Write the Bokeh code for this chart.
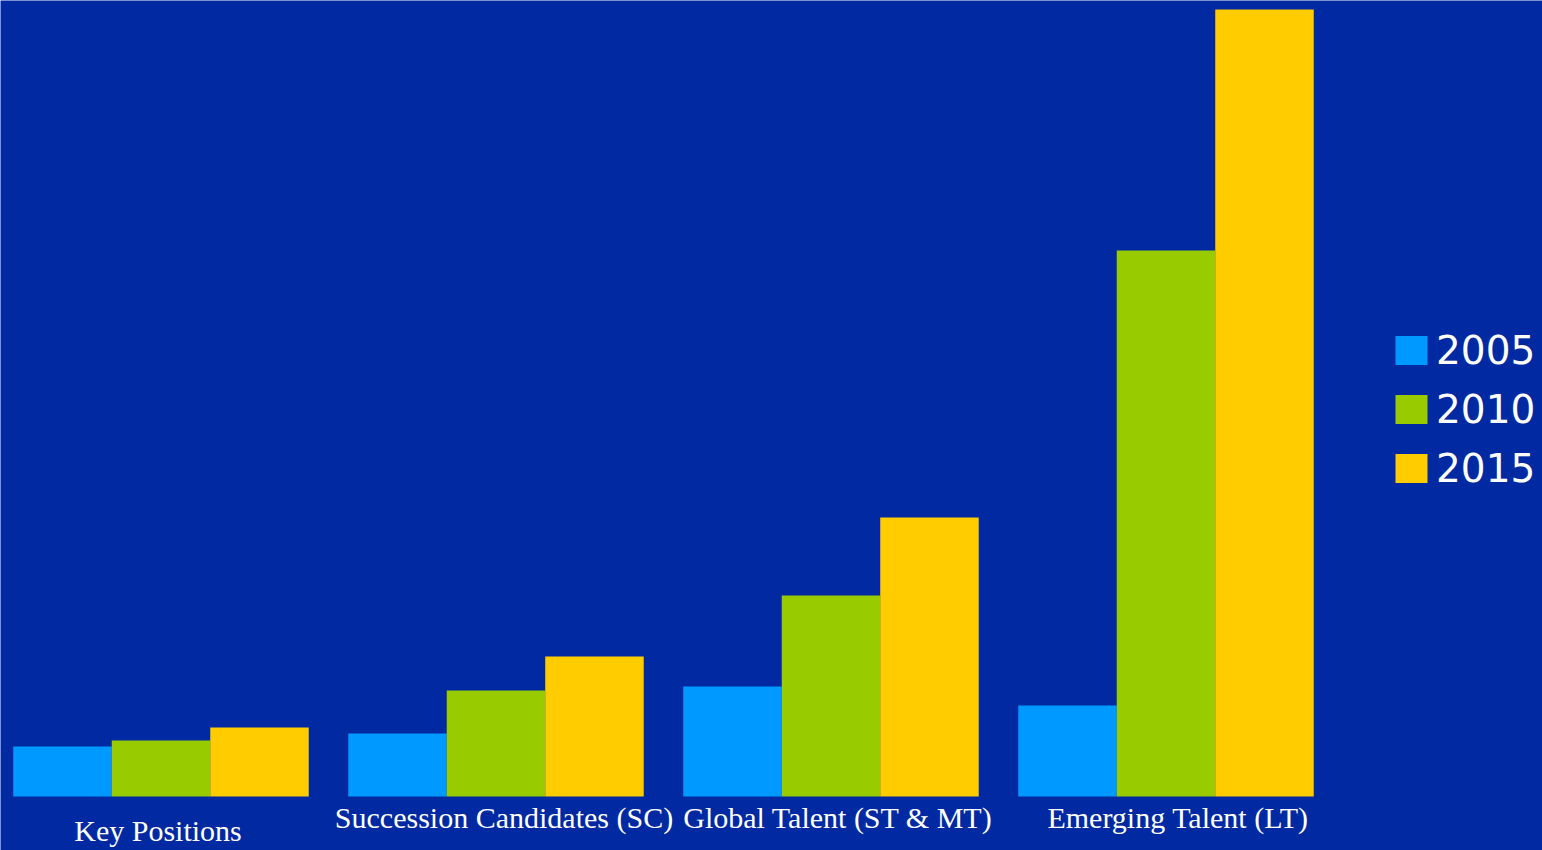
from bokeh.plotting import figure
from bokeh.models import ColumnDataSource, Range1d, Legend, LegendItem
from bokeh.core.properties import value
from bokeh.transform import dodge
from bokeh.embed import file_html
from bokeh.resources import INLINE

categories = ["Key Positions", "Succession Candidates (SC)", "Global Talent (ST & MT)", "Emerging Talent (LT)"]
years = ["2005", "2010", "2015"]
v2005 = [50, 63, 110, 91]
v2010 = [56, 106, 201, 546]
v2015 = [69, 140, 279, 787]
colors = ["#0099FF", "#99CC00", "#FFCC00"]
label_drop = [34, 21, 21, 21]
label_shift = [-3, 8, 7, 12]

BG = "#0029A2"
p = figure(width=1542, height=850, output_backend="svg", toolbar_location=None,
           x_range=Range1d(-0.4791, 4.1239), y_range=Range1d(-54, 796),
           min_border_left=0, min_border_right=0, min_border_top=0, min_border_bottom=0)
p.background_fill_color = BG
p.border_fill_color = BG
p.outline_line_color = None
p.xaxis.visible = False
p.yaxis.visible = False
p.grid.visible = False

idx = list(range(len(categories)))
src = ColumnDataSource(dict(x=idx, cat=categories, v2005=v2005, v2010=v2010, v2015=v2015,
                            drop=label_drop, shift=label_shift))
w = 0.294
renderers = []
for k, (yr, col) in enumerate(zip(years, colors)):
    r = p.vbar(x=dodge("x", (k - 1) * w), top="v" + yr, bottom=0, width=w, source=src,
               fill_color=col, line_color=None)
    renderers.append(r)

p.text(x="x", y=0, text="cat", source=src, y_offset="drop", x_offset="shift",
       text_align="center", text_baseline="alphabetic", text_color="white",
       text_font=value("Liberation Serif"), text_font_size="30px")

legend = Legend(items=[LegendItem(label=yr, renderers=[r]) for yr, r in zip(years, renderers)],
                location=(1391, 359), background_fill_alpha=0, border_line_color=None,
                label_text_color="white", label_text_font="DejaVu Sans",
                label_text_font_size="39px", glyph_width=40, glyph_height=36,
                label_height=46, label_standoff=5, spacing=13, padding=0, margin=0)
p.add_layout(legend)

open("out.html", "w").write(file_html(p, INLINE))
